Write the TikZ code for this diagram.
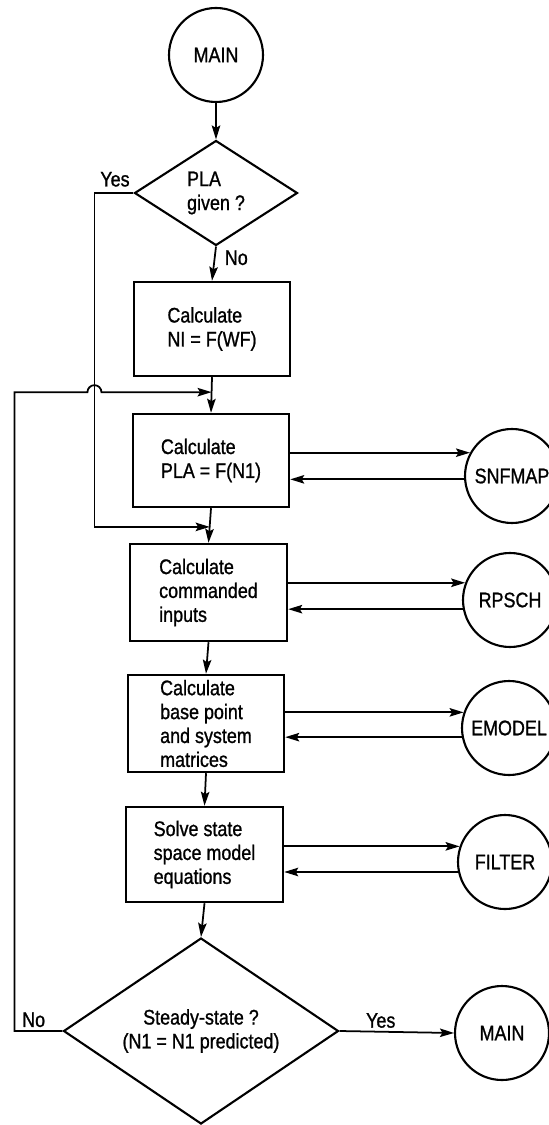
\documentclass[tikz,border=0pt]{standalone}
\usepackage{fontspec}
\setmainfont{Liberation Sans}[FakeStretch=0.85, FakeBold=1]
\usepackage{tikz}
\usetikzlibrary{arrows.meta, shapes.geometric, calc}

\begin{document}
\begin{tikzpicture}[
    every node/.style={font=\fontsize{12}{13.6}\selectfont},
    proc/.style={draw, line width=1.4pt, minimum width=3.12cm, minimum height=1.9cm,
                 inner sep=0pt, align=left},
    term/.style={draw, circle, line width=1.2pt, minimum size=1.88cm, inner sep=0pt},
    test/.style={draw, diamond, line width=1.2pt, inner sep=0pt},
    arr/.style={-{Stealth[length=2.8mm, width=1.7mm, inset=0.5mm]}, line width=1pt},
    lbl/.style={inner sep=2pt},
  ]
    \useasboundingbox (0,0) rectangle (10.98,-22.5);

    % main column
    \node[term] (main1) at (4.32,-1.10) {MAIN};
    \node[test, minimum width=3.26cm, minimum height=2.10cm, aspect=1.55, align=left]
         (pla) at (4.32,-3.86) {PLA\\given ?};
    \node[proc, minimum height=1.88cm] (calcn) at (4.24,-6.58) {Calculate\\NI = F(WF)};
    \node[proc, minimum height=1.86cm] (calcpla) at (4.22,-9.21) {Calculate\\PLA = F(N1)};
    \node[proc, minimum width=3.14cm, minimum height=1.94cm] (calccmd)
         at (4.17,-11.85) {Calculate\\commanded\\inputs};
    \node[proc, minimum height=1.94cm] (calcbase)
         at (4.12,-14.47) {Calculate\\base point\\and system\\matrices};
    \node[proc, minimum width=3.14cm] (solve)
         at (4.09,-17.09) {Solve state\\space model\\equations};
    \node[test, minimum width=5.50cm, minimum height=3.72cm, aspect=1.48, align=center]
         (steady) at (4.02,-20.62) {Steady-state ?\\(N1 = N1 predicted)};

    % subroutines
    \node[term] (snfmap) at (10.24,-9.52) {SNFMAP};
    \node[term] (rpsch) at (10.20,-12.00) {RPSCH};
    \node[term] (emodel) at (10.18,-14.56) {EMODEL};
    \node[term] (filter) at (10.10,-17.24) {FILTER};
    \node[term] (main2) at (10.04,-20.66) {MAIN};

    % main flow
    \draw[arr] (main1.south) -- (pla.north);
    \draw[arr] (pla.south) -- (calcn.north);
    \node[lbl, anchor=north west] (nolbl1) at ($(pla.south)+(0.1,0)$) {No};
    \draw[arr] (calcn.south) -- (calcpla.north);
    \draw[arr] (calcpla.south) -- (calccmd.north);
    \draw[arr] (calccmd.south) -- (calcbase.north);
    \draw[arr] (calcbase.south) -- (solve.north);
    \draw[arr] (solve.south) -- (steady.north);

    % bypass and loop back
    \coordinate (j1) at ($(calcn.south)!0.42!(calcpla.north)$);
    \coordinate (j2) at ($(calcpla.south)!0.54!(calccmd.north)$);
    \coordinate (yes) at ($(pla.west)+(-0.78,0)$);
    \coordinate (no) at ($(steady.west)+(-0.96,0)$);
    \draw[arr] (pla.west) -- (yes) |- (j2);
    \node[lbl, anchor=south east] (yeslbl1) at ($(pla.west)+(0,0.05)$) {Yes};
    \draw[arr] (steady.west) -- (no) |- ($(yes |- j1)+(-0.14,0)$)
         arc[start angle=180, end angle=0, radius=0.14] -- (j1);
    \node[lbl, anchor=south] (nolbl2) at ($(no)!0.4!(steady.west)$) {No};

    % calls to subroutines
    \foreach \blk/\sbr/\aout/\aback in {calcpla/snfmap/151/184, calccmd/rpsch/159/191,
                                        calcbase/emodel/161/191, solve/filter/161/192}{
      \draw[arr] (\blk.east |- \sbr.\aout) -- (\sbr.\aout);
      \draw[arr] (\sbr.\aback) -- (\blk.east |- \sbr.\aback);
    }
    \draw[arr] (steady.east) -- (main2.west);
    \node[lbl, anchor=south] (yeslbl2) at ($(steady.east)!0.36!(main2.west)$) {Yes};
  \end{tikzpicture}
\end{document}
